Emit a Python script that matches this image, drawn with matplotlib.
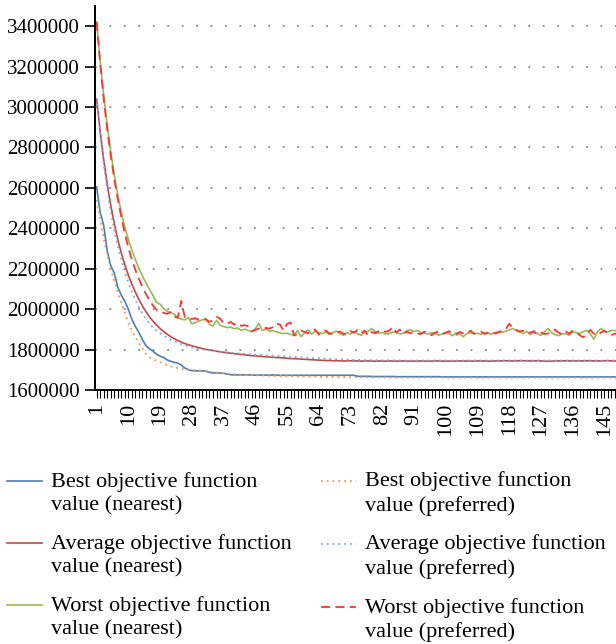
import numpy as np
import matplotlib
matplotlib.use("Agg")
import matplotlib.pyplot as plt
from matplotlib.lines import Line2D
from matplotlib.legend_handler import HandlerLine2D
from matplotlib.ticker import FixedLocator, NullFormatter


plt.rcParams['font.family'] = ['Liberation Serif', 'DejaVu Serif']

# iteration index 1..150
iterations = list(range(1, 151))

best_nearest = [
    2605000, 2480000, 2415000, 2290000, 2215000, 2180000, 2110000, 2070000, 2040000, 2000000,
    1950000, 1915000, 1885000, 1850000, 1820000, 1805000, 1793000, 1778000, 1768000, 1762000,
    1750000, 1743000, 1738000, 1734000, 1725000, 1710000, 1702000, 1697000, 1696000, 1696000,
    1696000, 1695000, 1688000, 1686000, 1686000, 1685000, 1684000, 1680000, 1677000, 1676000,
    1676000, 1676000, 1676000, 1676000, 1675000, 1675000, 1675000, 1675000, 1675000, 1675000,
    1675000, 1675000, 1674000, 1674000, 1674000, 1674000, 1674000, 1674000, 1674000, 1674000,
    1674000, 1674000, 1674000, 1674000, 1674000, 1674000, 1674000, 1674000, 1674000, 1674000,
    1674000, 1674000, 1674000, 1674000, 1669000, 1669000, 1669000, 1669000, 1668000, 1668000,
    1668000, 1668000, 1668000, 1668000, 1668000, 1667000, 1667000, 1667000, 1667000, 1667000,
    1667000, 1667000, 1667000, 1667000, 1667000, 1667000, 1667000, 1667000, 1666000, 1666000,
    1666000, 1666000, 1666000, 1666000, 1666000, 1666000, 1666000, 1666000, 1666000, 1666000,
    1666000, 1666000, 1666000, 1666000, 1666000, 1666000, 1666000, 1666000, 1666000, 1666000,
    1666000, 1666000, 1666000, 1666000, 1666000, 1666000, 1666000, 1666000, 1666000, 1666000,
    1666000, 1666000, 1666000, 1666000, 1666000, 1666000, 1666000, 1666000, 1666000, 1666000,
    1666000, 1666000, 1666000, 1666000, 1666000, 1666000, 1666000, 1666000, 1666000, 1666000,
]

avg_nearest = [
    3040000, 2880000, 2740000, 2620000, 2515000, 2425000, 2345000, 2278000, 2220000, 2169000,
    2124000, 2084000, 2048000, 2016000, 1988000, 1963000, 1941000, 1922000, 1905000, 1890000,
    1877000, 1865000, 1855000, 1846000, 1838000, 1831000, 1825000, 1820000, 1815000, 1810000,
    1806000, 1802000, 1799000, 1796000, 1793000, 1790000, 1788000, 1785000, 1783000, 1781000,
    1779000, 1777000, 1775000, 1773000, 1771000, 1770000, 1768000, 1767000, 1765000, 1764000,
    1763000, 1762000, 1761000, 1760000, 1758000, 1757000, 1756000, 1755000, 1754000, 1753000,
    1752000, 1751000, 1750000, 1749000, 1748000, 1747000, 1747000, 1746000, 1746000, 1746000,
    1745000, 1745000, 1746000, 1745000, 1745000, 1744000, 1745000, 1745000, 1744000, 1744000,
    1745000, 1744000, 1744000, 1745000, 1744000, 1744000, 1744000, 1745000, 1744000, 1744000,
    1744000, 1744000, 1745000, 1744000, 1744000, 1744000, 1745000, 1745000, 1744000, 1744000,
    1744000, 1744000, 1744000, 1745000, 1745000, 1744000, 1744000, 1744000, 1745000, 1745000,
    1745000, 1744000, 1744000, 1745000, 1745000, 1745000, 1746000, 1745000, 1745000, 1745000,
    1746000, 1746000, 1745000, 1745000, 1745000, 1746000, 1745000, 1744000, 1743000, 1744000,
    1745000, 1745000, 1745000, 1746000, 1745000, 1745000, 1745000, 1745000, 1745000, 1746000,
    1746000, 1745000, 1745000, 1745000, 1746000, 1746000, 1745000, 1745000, 1745000, 1745000,
]

worst_nearest = [
    3420000, 3230000, 3060000, 2910000, 2780000, 2665000, 2565000, 2478000, 2405000, 2345000,
    2292000, 2245000, 2203000, 2165000, 2130000, 2098000, 2068000, 2035000, 2025000, 2005000,
    1990000, 1985000, 1975000, 1958000, 1952000, 1948000, 1960000, 1928000, 1935000, 1942000,
    1948000, 1955000, 1925000, 1918000, 1945000, 1922000, 1915000, 1910000, 1912000, 1905000,
    1908000, 1896000, 1902000, 1895000, 1890000, 1905000, 1930000, 1895000, 1902000, 1892000,
    1895000, 1888000, 1884000, 1880000, 1882000, 1876000, 1872000, 1895000, 1865000, 1885000,
    1898000, 1878000, 1892000, 1885000, 1880000, 1888000, 1875000, 1885000, 1892000, 1880000,
    1872000, 1885000, 1878000, 1890000, 1880000, 1872000, 1885000, 1892000, 1905000, 1890000,
    1882000, 1885000, 1878000, 1880000, 1888000, 1885000, 1878000, 1882000, 1895000, 1898000,
    1890000, 1895000, 1885000, 1882000, 1878000, 1885000, 1880000, 1872000, 1878000, 1888000,
    1880000, 1870000, 1885000, 1878000, 1865000, 1880000, 1885000, 1878000, 1882000, 1876000,
    1885000, 1880000, 1878000, 1885000, 1890000, 1886000, 1892000, 1898000, 1905000, 1895000,
    1888000, 1880000, 1892000, 1875000, 1885000, 1880000, 1872000, 1888000, 1905000, 1885000,
    1875000, 1870000, 1878000, 1880000, 1872000, 1888000, 1885000, 1880000, 1890000, 1895000,
    1880000, 1852000, 1888000, 1905000, 1892000, 1888000, 1896000, 1895000, 1898000, 1900000,
]

best_preferred = [
    2540000, 2440000, 2350000, 2270000, 2200000, 2140000, 2085000, 2030000, 1982000, 1935000,
    1895000, 1862000, 1832000, 1806000, 1780000, 1763000, 1753000, 1745000, 1738000, 1731000,
    1725000, 1719000, 1714000, 1710000, 1707000, 1704000, 1702000, 1700000, 1699000, 1698000,
    1696000, 1694000, 1692000, 1690000, 1688000, 1686000, 1684000, 1682000, 1680000, 1679000,
    1678000, 1677000, 1676000, 1675000, 1675000, 1674000, 1674000, 1673000, 1673000, 1672000,
    1672000, 1671000, 1671000, 1670000, 1670000, 1669000, 1669000, 1668000, 1668000, 1668000,
    1667000, 1667000, 1667000, 1667000, 1666000, 1666000, 1666000, 1666000, 1665000, 1665000,
    1665000, 1665000, 1665000, 1665000, 1664000, 1664000, 1664000, 1664000, 1664000, 1664000,
    1664000, 1664000, 1663000, 1663000, 1663000, 1663000, 1663000, 1663000, 1663000, 1663000,
    1663000, 1663000, 1663000, 1663000, 1663000, 1663000, 1663000, 1663000, 1663000, 1663000,
    1662000, 1662000, 1662000, 1662000, 1662000, 1662000, 1662000, 1662000, 1662000, 1662000,
    1662000, 1662000, 1662000, 1662000, 1662000, 1662000, 1662000, 1662000, 1662000, 1662000,
    1662000, 1662000, 1662000, 1662000, 1662000, 1662000, 1662000, 1662000, 1662000, 1662000,
    1662000, 1662000, 1662000, 1662000, 1662000, 1662000, 1662000, 1662000, 1662000, 1662000,
    1662000, 1662000, 1662000, 1662000, 1662000, 1662000, 1662000, 1662000, 1662000, 1662000,
]

avg_preferred = [
    3045000, 2870000, 2720000, 2595000, 2485000, 2392000, 2313000, 2245000, 2185000, 2132000,
    2086000, 2046000, 2010000, 1979000, 1952000, 1929000, 1910000, 1895000, 1882000, 1870000,
    1859000, 1850000, 1842000, 1835000, 1828000, 1822000, 1816000, 1811000, 1807000, 1804000,
    1801000, 1799000, 1797000, 1795000, 1793000, 1791000, 1789000, 1788000, 1786000, 1785000,
    1783000, 1782000, 1780000, 1779000, 1778000, 1776000, 1775000, 1774000, 1773000, 1772000,
    1771000, 1770000, 1769000, 1768000, 1767000, 1766000, 1765000, 1764000, 1763000, 1762000,
    1761000, 1760000, 1759000, 1758000, 1757000, 1756000, 1755000, 1754000, 1753000, 1752000,
    1752000, 1751000, 1751000, 1750000, 1750000, 1750000, 1749000, 1749000, 1749000, 1749000,
    1748000, 1748000, 1748000, 1748000, 1748000, 1747000, 1747000, 1747000, 1747000, 1747000,
    1747000, 1747000, 1747000, 1747000, 1747000, 1747000, 1747000, 1747000, 1747000, 1747000,
    1747000, 1747000, 1747000, 1747000, 1747000, 1747000, 1747000, 1747000, 1747000, 1747000,
    1747000, 1747000, 1747000, 1747000, 1747000, 1747000, 1747000, 1747000, 1747000, 1747000,
    1747000, 1747000, 1747000, 1747000, 1747000, 1747000, 1747000, 1747000, 1747000, 1747000,
    1747000, 1747000, 1747000, 1747000, 1747000, 1747000, 1747000, 1747000, 1747000, 1747000,
    1747000, 1747000, 1747000, 1747000, 1747000, 1747000, 1747000, 1747000, 1747000, 1747000,
]

worst_preferred = [
    3420000, 3215000, 3040000, 2890000, 2760000, 2645000, 2545000, 2455000, 2375000, 2305000,
    2245000, 2195000, 2150000, 2110000, 2075000, 2045000, 2018000, 1998000, 1987000, 1982000,
    1978000, 1985000, 1965000, 1958000, 2042000, 1962000, 1955000, 1952000, 1956000, 1948000,
    1946000, 1950000, 1938000, 1945000, 1962000, 1955000, 1932000, 1928000, 1938000, 1925000,
    1932000, 1918000, 1922000, 1915000, 1890000, 1898000, 1905000, 1900000, 1908000, 1905000,
    1912000, 1930000, 1925000, 1895000, 1928000, 1935000, 1870000, 1880000, 1895000, 1888000,
    1882000, 1892000, 1900000, 1875000, 1888000, 1895000, 1882000, 1878000, 1885000, 1890000,
    1880000, 1875000, 1892000, 1885000, 1898000, 1880000, 1895000, 1870000, 1888000, 1882000,
    1892000, 1898000, 1888000, 1895000, 1912000, 1885000, 1900000, 1878000, 1890000, 1882000,
    1888000, 1880000, 1878000, 1890000, 1885000, 1872000, 1885000, 1890000, 1878000, 1882000,
    1892000, 1880000, 1875000, 1888000, 1882000, 1878000, 1895000, 1880000, 1885000, 1890000,
    1878000, 1885000, 1892000, 1880000, 1886000, 1895000, 1900000, 1928000, 1910000, 1898000,
    1890000, 1895000, 1880000, 1885000, 1892000, 1875000, 1885000, 1878000, 1880000, 1888000,
    1900000, 1885000, 1878000, 1892000, 1880000, 1895000, 1888000, 1872000, 1862000, 1878000,
    1898000, 1880000, 1872000, 1885000, 1895000, 1878000, 1872000, 1880000, 1876000, 1878000,
]

labels = [
    "Best objective function\nvalue (nearest)",
    "Average objective function\nvalue (nearest)",
    "Worst objective function\nvalue (nearest)",
    "Best objective function\nvalue (preferred)",
    "Average objective function\nvalue (preferred)",
    "Worst objective function\nvalue (preferred)",
]

y_ticks = list(range(1600000, 3400001, 200000))
x_label_ticks = list(range(1, 151, 9))


class FirstLineHandler(HandlerLine2D):
    # put the legend sample level with the first text line
    def create_artists(self, legend, orig_handle, xdescent, ydescent,
                       width, height, fontsize, trans):
        arts = super().create_artists(legend, orig_handle, xdescent, ydescent,
                                      width, height, fontsize, trans)
        for a in arts:
            a.set_ydata(np.asarray(a.get_ydata()) + 0.55 * fontsize)
        return arts


fig = plt.figure(figsize=(6.16, 6.44), dpi=100)
ax = fig.add_axes([0.154, 0.394, 0.846, 0.597])

x = np.array(iterations)
h1, = ax.plot(x, best_nearest, color='#4a7ebb', lw=1.2)
h2, = ax.plot(x, avg_nearest, color='#be4b48', lw=1.2)
h3, = ax.plot(x, worst_nearest, color='#98b954', lw=1.2)
h4, = ax.plot(x, best_preferred, color='#f79646', lw=1.3, linestyle=(0, (1, 2.2)))
h5, = ax.plot(x, avg_preferred, color='#7ba7e0', lw=1.3, linestyle=(0, (1, 2.2)))
h6, = ax.plot(x, worst_preferred, color='#ff3333', lw=1.3, linestyle=(0, (5, 3)))

ax.set_xlim(0.5, 148.3)
ax.set_ylim(1600000, 3500000)

ax.set_yticks(y_ticks)
ax.set_yticklabels([str(v) for v in y_ticks])
ax.yaxis.grid(True, color='#888888', linestyle=(0, (1, 7)), lw=1.3)
ax.set_axisbelow(True)

ax.xaxis.set_major_locator(FixedLocator(x_label_ticks))
ax.set_xticklabels([str(v) for v in x_label_ticks], rotation=90)
ax.xaxis.set_minor_locator(FixedLocator([i for i in iterations if i not in x_label_ticks]))
ax.xaxis.set_minor_formatter(NullFormatter())

for side in ['top', 'right']:
    ax.spines[side].set_visible(False)
for side in ['left', 'bottom']:
    ax.spines[side].set_linewidth(1.4)
    ax.spines[side].set_color('black')

ax.tick_params(axis='y', which='major', length=7, width=1.2, labelsize=15, pad=4)
ax.tick_params(axis='x', which='both', length=6, width=0.8, labelsize=16, pad=3)

leg = fig.legend([h1, h2, h3, h4, h5, h6], labels, ncol=2, loc='upper left',
                 bbox_to_anchor=(0.011, 0.268), frameon=False, fontsize=16,
                 handlelength=1.6, handletextpad=0.4, columnspacing=1.3,
                 labelspacing=0.85, borderaxespad=0.0, borderpad=0.0,
                 handler_map={Line2D: FirstLineHandler()})
for t in leg.get_texts():
    t.set_linespacing(1.3)

fig.savefig("out.png", dpi=100)
